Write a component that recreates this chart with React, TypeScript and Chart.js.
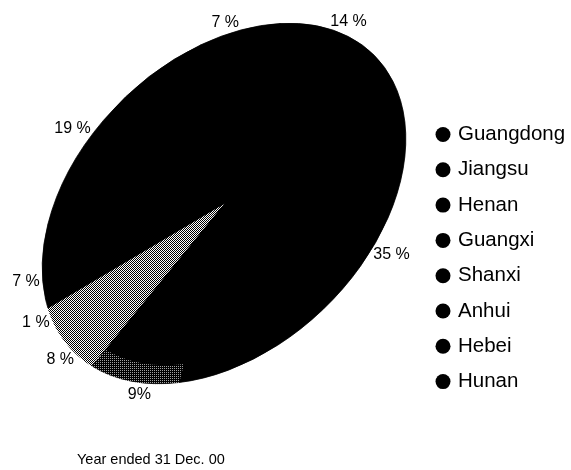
import { useEffect, useRef } from 'react';
import { Chart, registerables } from 'chart.js';

Chart.register(...registerables);

// ---------------- data ----------------
const provinces = ['Guangdong', 'Jiangsu', 'Henan', 'Guangxi', 'Shanxi', 'Anhui', 'Hebei', 'Hunan'];
const shares = [35, 9, 8, 1, 7, 19, 7, 14];
const shareLabels = ['35 %', '9%', '8 %', '1 %', '7 %', '19 %', '7 %', '14 %'];
// fill keys per slice: outer rim band and main body
const rimFill = ['black', 'dots', 'checker', 'black', 'black', 'black', 'black', 'black'];
const bodyFill = ['black', 'black', 'checker', 'black', 'black', 'black', 'black', 'black'];
const footnote = 'Year ended 31 Dec. 00';

// ---------------- style ----------------
const FONT = '"Liberation Sans", Arial, Helvetica, sans-serif';
const ELLIPSE = { cx: 224, cy: 203.5, a: 211, b: 145, tiltDeg: 44.3 };
const START_DEG = 102.2;
const LABEL_SHIFT_DEG = 5;
const LABEL_GAP = 4;
const LABEL_FONT_PX = 16;
const LEGEND = { x: 443, y0: 134.5, step: 35.3, r: 7.5, textX: 458, fontPx: 20.5 };
const FOOT = { x: 77, y: 460, fontPx: 14.5 };

function makePattern(kind: string): CanvasPattern {
  const c = document.createElement('canvas');
  c.width = 2;
  c.height = 2;
  const g = c.getContext('2d') as CanvasRenderingContext2D;
  if (kind === 'checker') {
    g.fillStyle = '#fff';
    g.fillRect(0, 0, 2, 2);
    g.fillStyle = '#000';
    g.fillRect(0, 0, 1, 1);
    g.fillRect(1, 1, 1, 1);
  } else {
    g.fillStyle = '#000';
    g.fillRect(0, 0, 2, 2);
    g.fillStyle = '#a0a0a0';
    g.fillRect(0, 0, 1, 1);
  }
  return g.createPattern(c, 'repeat') as CanvasPattern;
}

export default function App() {
  const ref = useRef<HTMLCanvasElement | null>(null);

  useEffect(() => {
    const canvas = ref.current;
    if (!canvas) return;
    const patterns: Record<string, CanvasPattern> = {
      checker: makePattern('checker'),
      dots: makePattern('dots'),
    };
    const fillOf = (k: string) => (k === 'black' ? '#000000' : patterns[k]);
    let matrix: DOMMatrix | null = null;

    const ellipsePlugin = {
      id: 'ellipsePie',
      beforeDatasetsDraw(chart: any) {
        const el: any = chart.getDatasetMeta(0).data[0];
        const ctx: CanvasRenderingContext2D = chart.ctx;
        ctx.save();
        ctx.translate(ELLIPSE.cx, ELLIPSE.cy);
        ctx.rotate((-ELLIPSE.tiltDeg * Math.PI) / 180);
        ctx.scale(ELLIPSE.a / el.outerRadius, ELLIPSE.b / el.outerRadius);
        ctx.translate(-el.x, -el.y);
        matrix = ctx.getTransform();
        const inv = matrix.inverse();
        Object.values(patterns).forEach((p) => p.setTransform(inv));
        // dark backing under the slices so anti-aliased seams between black slices stay black
        ctx.beginPath();
        ctx.arc(el.x, el.y, el.outerRadius - 0.6, 0, Math.PI * 2);
        ctx.fillStyle = '#000';
        ctx.fill();
      },
      afterDatasetsDraw(chart: any) {
        const ctx: CanvasRenderingContext2D = chart.ctx;
        ctx.restore();
        if (!matrix) return;
        const meta = chart.getDatasetMeta(0);
        ctx.save();
        ctx.fillStyle = '#000';
        ctx.font = `${LABEL_FONT_PX}px ${FONT}`;
        ctx.textAlign = 'center';
        ctx.textBaseline = 'middle';
        meta.data.forEach((el: any, i: number) => {
          const phi = (el.startAngle + el.endAngle) / 2 - (LABEL_SHIFT_DEG * Math.PI) / 180;
          const p = matrix!.transformPoint(
            new DOMPoint(el.x + el.outerRadius * Math.cos(phi), el.y + el.outerRadius * Math.sin(phi))
          );
          const dx = p.x - ELLIPSE.cx;
          const dy = p.y - ELLIPSE.cy;
          const len = Math.hypot(dx, dy) || 1;
          const ux = dx / len;
          const uy = dy / len;
          const txt = shareLabels[i];
          const w = ctx.measureText(txt).width;
          const lx = p.x + ux * LABEL_GAP + (ux * w) / 2;
          const ly = p.y + uy * LABEL_GAP + uy * (LABEL_FONT_PX * 0.5);
          ctx.fillText(txt, lx, ly);
        });
        ctx.restore();
      },
      afterDraw(chart: any) {
        const ctx: CanvasRenderingContext2D = chart.ctx;
        ctx.save();
        ctx.fillStyle = '#000';
        ctx.font = `${LEGEND.fontPx}px ${FONT}`;
        ctx.textAlign = 'left';
        ctx.textBaseline = 'middle';
        provinces.forEach((name, i) => {
          const y = LEGEND.y0 + i * LEGEND.step;
          ctx.beginPath();
          ctx.arc(LEGEND.x, y, LEGEND.r, 0, Math.PI * 2);
          ctx.fill();
          ctx.fillText(name, LEGEND.textX, y);
        });
        ctx.font = `${FOOT.fontPx}px ${FONT}`;
        ctx.fillText(footnote, FOOT.x, FOOT.y);
        ctx.restore();
      },
    };

    const chart = new Chart(canvas, {
      type: 'pie',
      data: {
        labels: provinces,
        datasets: [
          {
            data: shares,
            backgroundColor: rimFill.map(fillOf),
            borderColor: rimFill.map(fillOf),
            borderWidth: 1,
            weight: 1,
            clip: false,
          } as any,
          {
            data: shares,
            backgroundColor: bodyFill.map(fillOf),
            borderColor: bodyFill.map(fillOf),
            borderWidth: 1,
            weight: 9,
            clip: false,
          } as any,
        ],
      },
      options: {
        responsive: false,
        animation: false,
        events: [],
        rotation: START_DEG,
        layout: { padding: 0 },
        plugins: {
          legend: { display: false },
          tooltip: { enabled: false },
          title: { display: false },
        },
      },
      plugins: [ellipsePlugin as any],
    });
    return () => chart.destroy();
  }, []);

  return (
    <div style={{ position: 'fixed', left: 0, top: 0, width: 571, height: 470, background: '#fff' }}>
      <canvas ref={ref} width={571} height={470} style={{ display: 'block' }} />
    </div>
  );
}
